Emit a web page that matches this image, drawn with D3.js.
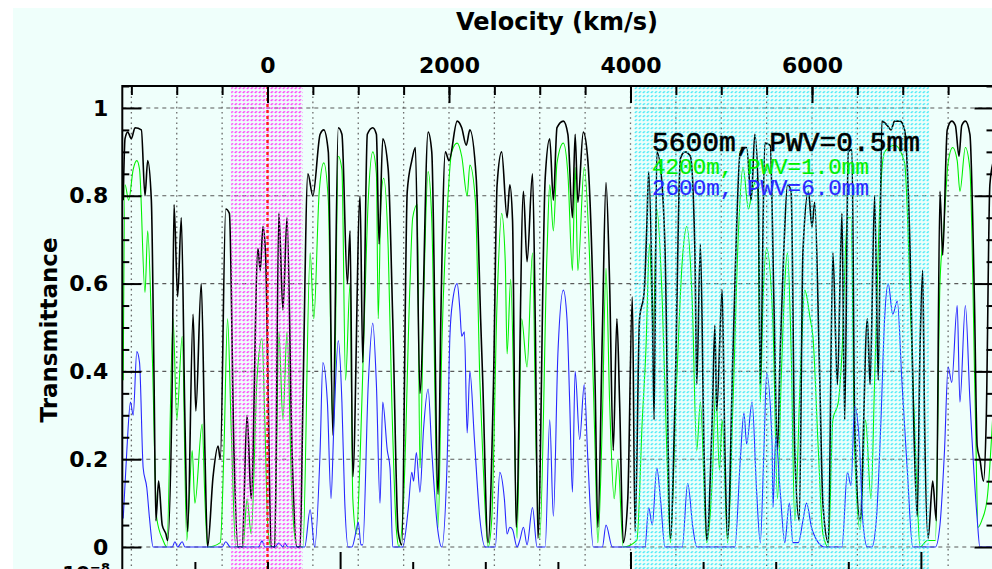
<!DOCTYPE html>
<html>
<head>
<meta charset="utf-8">
<script src="https://cdn.jsdelivr.net/npm/d3@7"></script>
<style>
  body { margin: 0; background: #fff; }
  svg { display: block; }
  text { font-family: "DejaVu Sans", sans-serif; }
</style>
</head>
<body>
<svg id="chart"></svg>
<script>
// transmittance vs velocity (km/s)
let black5600 = [[-1590,0.79],[-1570,0.93],[-1540,0.945],[-1500,0.93],[-1460,0.955],[-1390,0.95],[-1350,0.80],[-1320,0.88],[-1280,0.79],[-1250,0.38],[-1230,0.06],[-1200,0.15],[-1160,0.05],[-1120,0.03],[-1100,0.015],[-1050,0.38],[-1030,0.78],[-990,0.57],[-950,0.75],[-910,0.29],[-880,0.035],[-820,0.53],[-790,0.31],[-730,0.60],[-690,0.22],[-660,0],[-600,0.16],[-545,0.23],[-520,0.20],[-460,0.77],[-420,0.76],[-370,0.22],[-325,0],[-280,0],[-225,0.30],[-180,0.11],[-105,0.68],[-80,0.63],[-50,0.73],[-20,0.66],[5,0.38],[40,0],[80,0],[125,0.76],[170,0.54],[215,0.75],[270,0.22],[325,0],[360,0],[390,0.33],[445,0.85],[500,0.80],[580,0.94],[620,0.95],[670,0.90],[720,0.255],[780,0.955],[820,0.94],[880,0.60],[910,0.72],[940,0.16],[1020,0.80],[1050,0.42],[1100,0.94],[1160,0.955],[1200,0.94],[1230,0.69],[1270,0.93],[1330,0.86],[1380,0.52],[1440,0.035],[1480,0.005],[1540,0.81],[1590,0.88],[1630,0.91],[1680,0.35],[1770,0.945],[1810,0.90],[1880,0.12],[1910,0.52],[1960,0.90],[2000,0.88],[2090,0.97],[2140,0.955],[2190,0.915],[2230,0.95],[2300,0.84],[2350,0.51],[2370,0.39],[2430,0.01],[2490,0.37],[2530,0.825],[2580,0.90],[2640,0.75],[2670,0.825],[2700,0.745],[2740,0.045],[2820,0.81],[2860,0.65],[2920,0.85],[2950,0.52],[2980,0.02],[3060,0.84],[3110,0.93],[3150,0.79],[3190,0.955],[3260,0.97],[3310,0.94],[3360,0.75],[3390,0.94],[3420,0.785],[3480,0.945],[3530,0.88],[3610,0.37],[3640,0.045],[3690,0.49],[3730,0.83],[3770,0.60],[3810,0.22],[3850,0.52],[3880,0.33],[3920,0.01],[3970,0.11],[4020,0.57],[4050,0.035],[4100,0.52],[4150,0.58],[4180,0.73],[4200,0.855],[4240,0.56],[4260,0.29],[4290,0.90],[4350,0.82],[4380,0.68],[4440,0.02],[4490,0.33],[4550,0.885],[4600,0.90],[4660,0.89],[4710,0.67],[4730,0.37],[4770,0.69],[4810,0.22],[4840,0.015],[4900,0.29],[4930,0.505],[4950,0.31],[5010,0.585],[5040,0.22],[5070,0.02],[5130,0.45],[5210,0.90],[5280,0.91],[5330,0.79],[5370,0.94],[5410,0.79],[5430,0.37],[5480,0.92],[5540,0.915],[5580,0.56],[5620,0.22],[5650,0.45],[5690,0.68],[5730,0.825],[5770,0.81],[5810,0.22],[5860,0.06],[5900,0.67],[5960,0.81],[6000,0.73],[6030,0.785],[6080,0.43],[6120,0.10],[6180,0.01],[6230,0.67],[6280,0.37],[6330,0.76],[6360,0.29],[6400,0.90],[6440,0.905],[6470,0.29],[6530,0.06],[6610,0.52],[6640,0.37],[6690,0.80],[6730,0.38],[6770,0.97],[6830,0.96],[6870,0.95],[6910,0.97],[6970,0.97],[7020,0.95],[7080,0.68],[7120,0.29],[7160,0.07],[7190,0.45],[7220,0.63],[7240,0.29],[7280,0.02],[7330,0.15],[7370,0.06],[7410,0.81],[7440,0.665],[7490,0.95],[7540,0.97],[7580,0.96],[7620,0.89],[7650,0.96],[7690,0.97],[7740,0.94],[7790,0.56],[7820,0.23],[7850,0.20],[7890,0.15],[7920,0.29],[7960,0.825],[8000,0.88]];

let green4200 = [[-1590,0.38],[-1570,0.825],[-1530,0.79],[-1480,0.86],[-1440,0.88],[-1410,0.86],[-1350,0.58],[-1320,0.72],[-1270,0.44],[-1220,0.065],[-1150,0.015],[-1110,0],[-1040,0.52],[-1000,0.29],[-940,0.48],[-890,0.015],[-830,0.22],[-800,0.10],[-720,0.28],[-690,0.11],[-660,0],[-520,0.01],[-480,0.22],[-440,0.52],[-400,0.27],[-350,0],[-270,0],[-225,0.11],[-180,0.03],[-115,0.385],[-60,0.475],[-30,0.29],[5,0.04],[40,0],[80,0],[125,0.49],[170,0.29],[215,0.49],[270,0.11],[325,0],[390,0],[470,0.67],[510,0.52],[570,0.81],[620,0.875],[670,0.79],[710,0.33],[730,0.27],[780,0.89],[820,0.86],[860,0.38],[910,0.60],[940,0.11],[980,0.03],[1020,0.20],[1060,0.47],[1110,0.79],[1160,0.90],[1200,0.85],[1220,0.52],[1250,0.79],[1280,0.84],[1330,0.68],[1370,0.33],[1420,0.04],[1450,0],[1500,0.11],[1570,0.60],[1600,0.75],[1650,0.78],[1680,0.18],[1720,0.56],[1770,0.855],[1810,0.745],[1880,0.045],[1920,0.45],[1980,0.765],[2030,0.90],[2090,0.92],[2140,0.89],[2200,0.80],[2230,0.87],[2290,0.79],[2340,0.38],[2370,0.22],[2430,0],[2470,0.06],[2530,0.56],[2580,0.76],[2620,0.65],[2640,0.44],[2680,0.61],[2720,0.29],[2750,0.02],[2800,0.52],[2860,0.41],[2920,0.67],[2960,0.22],[3000,0.02],[3080,0.67],[3110,0.825],[3150,0.72],[3190,0.875],[3260,0.92],[3310,0.85],[3360,0.63],[3390,0.865],[3420,0.63],[3490,0.865],[3550,0.655],[3610,0.22],[3640,0.01],[3690,0.29],[3730,0.635],[3770,0.33],[3820,0.11],[3860,0.20],[3920,0],[4070,0.015],[4130,0.29],[4170,0.45],[4210,0.69],[4250,0.49],[4290,0.77],[4350,0.56],[4400,0.22],[4440,0.01],[4500,0.33],[4570,0.65],[4620,0.73],[4680,0.56],[4730,0.22],[4770,0.33],[4840,0.01],[4900,0.15],[4940,0.36],[4980,0.175],[5010,0.29],[5070,0.01],[5130,0.33],[5190,0.72],[5240,0.865],[5300,0.77],[5340,0.81],[5400,0.84],[5430,0.33],[5460,0.56],[5500,0.68],[5570,0.505],[5620,0.11],[5660,0.38],[5730,0.67],[5770,0.45],[5810,0.06],[5870,0.38],[5920,0.585],[5980,0.52],[6010,0.48],[6070,0.22],[6120,0.03],[6180,0],[6230,0.29],[6290,0.33],[6330,0.44],[6390,0.75],[6430,0.75],[6470,0.22],[6530,0.04],[6590,0.29],[6650,0.11],[6690,0.38],[6750,0.79],[6800,0.90],[6910,0.915],[7020,0.875],[7100,0.45],[7160,0.11],[7190,0],[7270,0.015],[7360,0.015],[7410,0.60],[7450,0.72],[7500,0.875],[7550,0.91],[7600,0.88],[7630,0.81],[7690,0.91],[7740,0.86],[7800,0.305],[7830,0.045],[7870,0.06],[7930,0.11],[8000,0.33]];

let blue2600 = [[-1590,0.065],[-1550,0.22],[-1510,0.33],[-1480,0.30],[-1440,0.445],[-1410,0.42],[-1370,0.18],[-1330,0.135],[-1300,0.065],[-1260,0],[-1050,0],[-1020,0.012],[-990,0],[-940,0.012],[-910,0],[-500,0],[-460,0.012],[-410,0],[-100,0],[-60,0.014],[-30,0],[80,0],[125,0.009],[170,0],[190,0.009],[225,0],[410,0],[470,0.085],[520,0],[580,0.22],[610,0.42],[660,0.33],[700,0.11],[730,0.27],[780,0.47],[820,0.33],[850,0.11],[890,0],[930,0],[980,0.04],[1000,0.057],[1030,0.005],[1050,0.005],[1110,0.37],[1160,0.51],[1200,0.37],[1240,0.10],[1270,0.33],[1320,0.22],[1350,0.18],[1380,0],[1490,0],[1550,0.085],[1590,0.17],[1610,0.15],[1640,0.215],[1680,0.125],[1720,0.27],[1770,0.36],[1810,0.22],[1870,0.05],[1920,0],[1980,0.20],[2010,0.48],[2040,0.56],[2090,0.60],[2120,0.54],[2140,0.48],[2170,0.49],[2200,0.26],[2230,0.40],[2280,0.245],[2340,0.065],[2400,0],[2510,0],[2560,0.17],[2610,0.11],[2640,0.03],[2670,0.045],[2700,0.04],[2750,0],[2780,0.015],[2820,0.045],[2860,0.005],[2920,0.09],[2970,0],[3060,0],[3110,0.29],[3150,0.07],[3200,0.44],[3260,0.585],[3300,0.52],[3330,0.33],[3360,0.125],[3390,0.40],[3440,0.245],[3490,0.37],[3530,0.20],[3590,0],[3690,0],[3730,0.05],[3800,0],[4160,0],[4200,0.09],[4240,0.05],[4290,0.18],[4330,0.11],[4380,0],[4570,0],[4630,0.145],[4690,0.04],[4730,0],[5150,0],[5210,0.20],[5250,0.305],[5280,0.235],[5340,0.33],[5390,0.125],[5430,0.01],[5470,0.22],[5500,0.395],[5560,0.235],[5570,0.09],[5600,0.25],[5650,0.125],[5700,0.01],[5750,0.10],[5790,0.01],[5850,0.01],[5900,0.06],[5940,0.10],[6000,0.04],[6140,0],[6330,0],[6390,0.17],[6430,0.14],[6470,0.32],[6520,0.245],[6560,0.06],[6610,0],[6660,0],[6710,0.065],[6760,0.29],[6800,0.52],[6840,0.60],[6890,0.53],[6940,0.56],[6990,0.38],[7050,0.175],[7110,0],[7360,0],[7410,0.05],[7460,0.22],[7500,0.41],[7540,0.375],[7600,0.55],[7630,0.33],[7690,0.55],[7740,0.335],[7820,0.065],[7850,0],[8000,0]];

let seriesNames = ["5600m, PWV=0.5mm", "4200m, PWV=1.0mm", "2600m, PWV=6.0mm"];
let seriesColors = ["#000000", "#00f000", "#2828ff"];

let velocityMajorTicks = [0, 2000, 4000, 6000];
let velocityMinorTicks = [-1500, -1000, -500, 0, 500, 1000, 1500, 2000, 2500, 3000, 3500, 4000, 4500, 5000, 5500, 6000, 6500, 7000, 7500];
let bottomMinorTicks = [-800, 0, 1600, 2400, 3200, 4800, 5600, 6400];
let bottomMajorTicks = [800, 4000, 7200];
let yTicks = [0, 0.2, 0.4, 0.6, 0.8, 1];
let yTickLabels = ["0", "0.2", "0.4", "0.6", "0.8", "1"];
let yMinorTicks = [0.05, 0.1, 0.15, 0.25, 0.3, 0.35, 0.45, 0.5, 0.55, 0.65, 0.7, 0.75, 0.85, 0.9, 0.95, 1.05];

let magentaBand = [-400, 390];
let cyanBand = [4040, 7290];

drawChart();

function drawChart() {
  let config = getConfig();
  let scales = getScales(config);

  drawGrid(scales, config);
  drawLines(scales, config);
  drawLegend(config);
  drawBands(scales, config);
  drawAxes(scales, config);
}

function getConfig() {
  let width = 992;
  let height = 569;
  let margin = { top: 86, left: 122.3 };
  let bodyWidth = 871.2;
  let bodyHeight = 490;

  let container = d3.select("#chart").attr("width", width).attr("height", height);
  container.append("rect")
    .attr("x", 13).attr("y", 8)
    .attr("width", width).attr("height", height)
    .attr("fill", "#effffb");

  let body = container.append("g")
    .attr("transform", `translate(${margin.left},${margin.top})`);

  body.append("clipPath").attr("id", "plotClip")
    .append("rect").attr("width", bodyWidth).attr("height", bodyHeight);

  return { width, height, margin, bodyWidth, bodyHeight, container, body };
}

function getScales({ bodyWidth, bodyHeight }) {
  let xScale = d3.scaleLinear().domain([-1600, 8000]).range([0, bodyWidth]);
  let yScale = d3.scaleLinear().domain([-0.066, 1.05]).range([bodyHeight, 0]);
  return { xScale, yScale };
}

function drawGrid({ xScale, yScale }, { body, bodyWidth, bodyHeight }) {
  body.selectAll(".vgrid").data(velocityMinorTicks).enter()
    .append("line")
    .attr("x1", (d) => xScale(d)).attr("x2", (d) => xScale(d))
    .attr("y1", 0).attr("y2", bodyHeight)
    .attr("stroke", (d) => (d === 0 ? "none" : "#6a6a6a"))
    .attr("stroke-width", 1.3)
    .attr("stroke-dasharray", "1.6,3.6");

  body.selectAll(".hgrid").data(yTicks).enter()
    .append("line")
    .attr("x1", 0).attr("x2", bodyWidth)
    .attr("y1", (d) => yScale(d)).attr("y2", (d) => yScale(d))
    .attr("stroke", "#5a5a5a")
    .attr("stroke-width", 1.1)
    .attr("stroke-dasharray", "4,4");
}

function drawLines({ xScale, yScale }, { body }) {
  let line = d3.line()
    .x((d) => xScale(d[0]))
    .y((d) => yScale(d[1]))
    .curve(d3.curveMonotoneX);

  let g = body.append("g").attr("clip-path", "url(#plotClip)");
  let order = [
    { data: green4200, color: seriesColors[1], w: 1.1 },
    { data: black5600, color: seriesColors[0], w: 1.6 },
    { data: blue2600, color: seriesColors[2], w: 1.1 },
  ];
  order.forEach((s) => {
    g.append("path")
      .attr("d", line(s.data))
      .attr("fill", "none")
      .attr("stroke", s.color)
      .attr("stroke-width", s.w)
      .attr("stroke-linejoin", "round");
  });
}

function drawLegend({ container }) {
  let rows = [
    { y: 151, size: 28, len: 268 },
    { y: 174, size: 22.5, len: 217 },
    { y: 195, size: 22.5, len: 217 },
  ];
  rows.forEach((r, i) => {
    container.append("text")
      .attr("x", 652).attr("y", r.y)
      .attr("textLength", r.len)
      .attr("lengthAdjust", "spacingAndGlyphs")
      .style("font-family", "'Liberation Mono', monospace")
      .style("font-size", r.size + "px")
      .attr("fill", seriesColors[i])
      .attr("stroke", seriesColors[i])
      .attr("stroke-width", i === 0 ? 0.6 : 0.2)
      .text(seriesNames[i]);
  });
}

function drawBands({ xScale, yScale }, { body, container }) {
  let defs = container.append("defs");
  [["magentaHatch", "#ff30f8", 1.4], ["cyanHatch", "#28e6f6", 1.25]].forEach(([id, color, w]) => {
    let p = defs.append("pattern")
      .attr("id", id)
      .attr("patternUnits", "userSpaceOnUse")
      .attr("width", 4).attr("height", 4);
    p.append("line")
      .attr("x1", 0.7).attr("y1", 3.1).attr("x2", 2.5).attr("y2", 1.3)
      .attr("stroke", color).attr("stroke-width", w);
  });

  let bandBottom = yScale(-0.05);
  [[magentaBand, "magentaHatch"], [cyanBand, "cyanHatch"]].forEach(([band, id]) => {
    body.append("rect")
      .attr("x", xScale(band[0]))
      .attr("y", 0)
      .attr("width", xScale(band[1]) - xScale(band[0]))
      .attr("height", bandBottom)
      .attr("fill", `url(#${id})`);
  });

  // red dotted line at zero velocity
  body.append("line")
    .attr("x1", xScale(0)).attr("x2", xScale(0))
    .attr("y1", 0).attr("y2", 490)
    .attr("stroke", "#ff1a1a")
    .attr("stroke-width", 2.4)
    .attr("stroke-dasharray", "3,3");
}

function drawAxes({ xScale, yScale }, { body, container, bodyWidth, bodyHeight }) {
  let styleAxis = (g) => {
    g.select(".domain").remove();
    g.selectAll(".tick line").attr("stroke", "#000").attr("stroke-width", 2);
    g.selectAll("text")
      .style("font-family", "'DejaVu Sans', sans-serif")
      .style("font-weight", "bold")
      .style("font-size", "22px")
      .attr("fill", "#000");
  };

  // top velocity axis
  body.append("g")
    .call(d3.axisTop(xScale).tickValues(velocityMinorTicks).tickSizeInner(-9).tickSizeOuter(0).tickFormat(""))
    .call(styleAxis);
  body.append("g")
    .call(d3.axisTop(xScale).tickValues(velocityMajorTicks).tickSizeInner(-17).tickSizeOuter(0).tickPadding(13).tickFormat(d3.format("d")))
    .call(styleAxis);

  // left transmittance axis
  body.append("g")
    .call(d3.axisLeft(yScale).tickValues(yMinorTicks).tickSizeInner(-7).tickSizeOuter(0).tickFormat(""))
    .call(styleAxis);
  body.append("g")
    .call(d3.axisLeft(yScale).tickValues(yTicks).tickSizeInner(-19).tickSizeOuter(0).tickPadding(14)
      .tickFormat((d, i) => yTickLabels[i]))
    .call(styleAxis);

  // right axis (ticks only)
  body.append("g").attr("transform", `translate(${bodyWidth},0)`)
    .call(d3.axisRight(yScale).tickValues(yMinorTicks).tickSizeInner(-7).tickSizeOuter(0).tickFormat(""))
    .call(styleAxis);
  body.append("g").attr("transform", `translate(${bodyWidth},0)`)
    .call(d3.axisRight(yScale).tickValues(yTicks).tickSizeInner(-19).tickSizeOuter(0).tickFormat(""))
    .call(styleAxis);

  // bottom axis (ticks only, its labels fall outside the picture)
  body.append("g").attr("transform", `translate(0,${bodyHeight})`)
    .call(d3.axisBottom(xScale).tickValues(bottomMinorTicks).tickSizeInner(-14).tickSizeOuter(0).tickFormat(""))
    .call(styleAxis);
  body.append("g").attr("transform", `translate(0,${bodyHeight})`)
    .call(d3.axisBottom(xScale).tickValues(bottomMajorTicks).tickSizeInner(-24).tickSizeOuter(0).tickFormat(""))
    .call(styleAxis);

  // frame
  body.append("rect")
    .attr("width", bodyWidth).attr("height", bodyHeight)
    .attr("fill", "none").attr("stroke", "#000").attr("stroke-width", 2);

  container.append("text")
    .attr("x", 557).attr("y", 30)
    .attr("text-anchor", "middle")
    .style("font-weight", "bold").style("font-size", "24px")
    .text("Velocity (km/s)");

  container.append("text")
    .attr("transform", "translate(57,330) rotate(-90)")
    .attr("text-anchor", "middle")
    .style("font-weight", "bold").style("font-size", "23px")
    .text("Transmittance");

  let lower = container.append("text")
    .attr("x", 110).attr("y", 580)
    .attr("text-anchor", "end")
    .style("font-weight", "bold").style("font-size", "20px");
  lower.append("tspan").text("10");
  lower.append("tspan").attr("dy", -8).style("font-size", "13px").text("−8");
}
</script>
</body>
</html>
